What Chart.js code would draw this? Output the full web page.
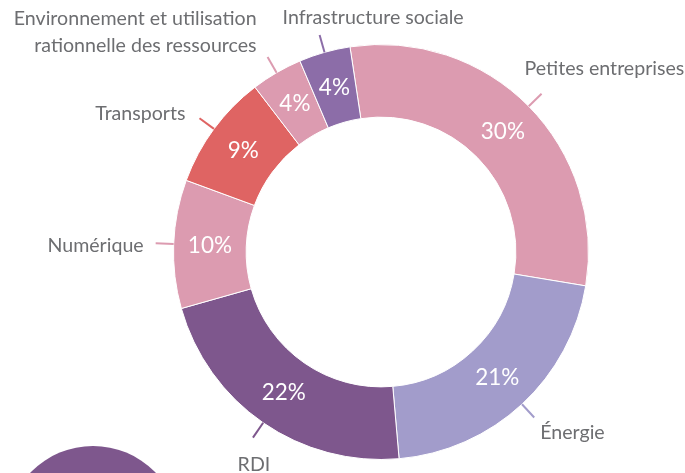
<!DOCTYPE html>
<html>
<head>
<meta charset="utf-8">
<script src="https://cdn.jsdelivr.net/npm/chart.js@4.4.1/dist/chart.umd.min.js"></script>
<style>
  html, body { margin: 0; padding: 0; background: #ffffff; overflow: hidden; }
  #wrap { position: relative; width: 685px; height: 473px; }
  #deco { position: absolute; left: 6px; top: 446px; width: 174px; height: 174px; border-radius: 50%; background: #7E578D; }
  canvas { position: absolute; left: 0; top: 0; }
</style>
</head>
<body>
<div id="wrap">
  <div id="deco"></div>
  <canvas id="c" width="685" height="473"></canvas>
</div>
<script>
// ---- data ----
const categories = [
  'Petites entreprises',
  'Énergie',
  'RDI',
  'Numérique',
  'Transports',
  ['Environnement et utilisation', 'rationnelle des ressources'],
  'Infrastructure sociale'
];
const shares = [30, 21, 22, 10, 9, 4, 4];

// ---- style ----
const colors = ['#DC9BB0', '#A29CCB', '#7E578D', '#DC9BB0', '#DF6463', '#DC9BB0', '#8C6DA8'];
// label placement relative to the leader end: [dx, dy, align]
const labelOffsets = [
  [-17, -25, 'left'],
  [6, 15, 'left'],
  [1, 27, 'center'],
  [-12, 2, 'right'],
  [-14, -5, 'right'],
  [-11, -38, 'right'],
  [-37, -17, 'left']
];
const FONT = 'Lato, "Open Sans", sans-serif';

const labelPlugin = {
  id: 'donutLabels',
  afterDatasetsDraw(chart) {
    const ctx = chart.ctx;
    const meta = chart.getDatasetMeta(0);
    const ds = chart.data.datasets[0];
    meta.data.forEach((arc, i) => {
      const p = arc.getProps(['x', 'y', 'startAngle', 'endAngle', 'innerRadius', 'outerRadius'], true);
      const mid = (p.startAngle + p.endAngle) / 2;
      const cos = Math.cos(mid), sin = Math.sin(mid);
      // leader line
      const r0 = p.outerRadius, r1 = p.outerRadius + 18;
      const ex = p.x + cos * r1, ey = p.y + sin * r1;
      ctx.save();
      ctx.strokeStyle = ds.backgroundColor[i];
      ctx.lineWidth = 2;
      ctx.beginPath();
      ctx.moveTo(p.x + cos * r0, p.y + sin * r0);
      ctx.lineTo(ex, ey);
      ctx.stroke();
      // percentage
      const rm = (p.innerRadius + p.outerRadius) / 2;
      ctx.fillStyle = '#ffffff';
      ctx.font = '22.5px ' + FONT;
      ctx.textAlign = 'center';
      ctx.textBaseline = 'middle';
      ctx.fillText(ds.data[i] + '%', p.x + cos * rm, p.y + sin * rm);
      // category label
      const off = labelOffsets[i];
      const lbl = chart.data.labels[i];
      const lines = Array.isArray(lbl) ? lbl : [lbl];
      ctx.fillStyle = '#6D6E71';
      ctx.font = '19.6px ' + FONT;
      ctx.textAlign = off[2];
      lines.forEach((t, k) => {
        ctx.fillText(t, ex + off[0], ey + off[1] + k * 27);
      });
      ctx.restore();
    });
  }
};

new Chart(document.getElementById('c'), {
  type: 'doughnut',
  data: {
    labels: categories,
    datasets: [{
      data: shares,
      backgroundColor: colors,
      borderColor: '#ffffff',
      borderWidth: 1,
      hoverOffset: 0,
      offset: 0
    }]
  },
  options: {
    responsive: false,
    animation: false,
    cutout: '65%',
    rotation: -8.6,
    layout: { padding: { left: 173, right: 96, top: 44, bottom: 13 } },
    plugins: {
      legend: { display: false },
      tooltip: { enabled: false }
    },
    events: []
  },
  plugins: [labelPlugin]
});
</script>
</body>
</html>
